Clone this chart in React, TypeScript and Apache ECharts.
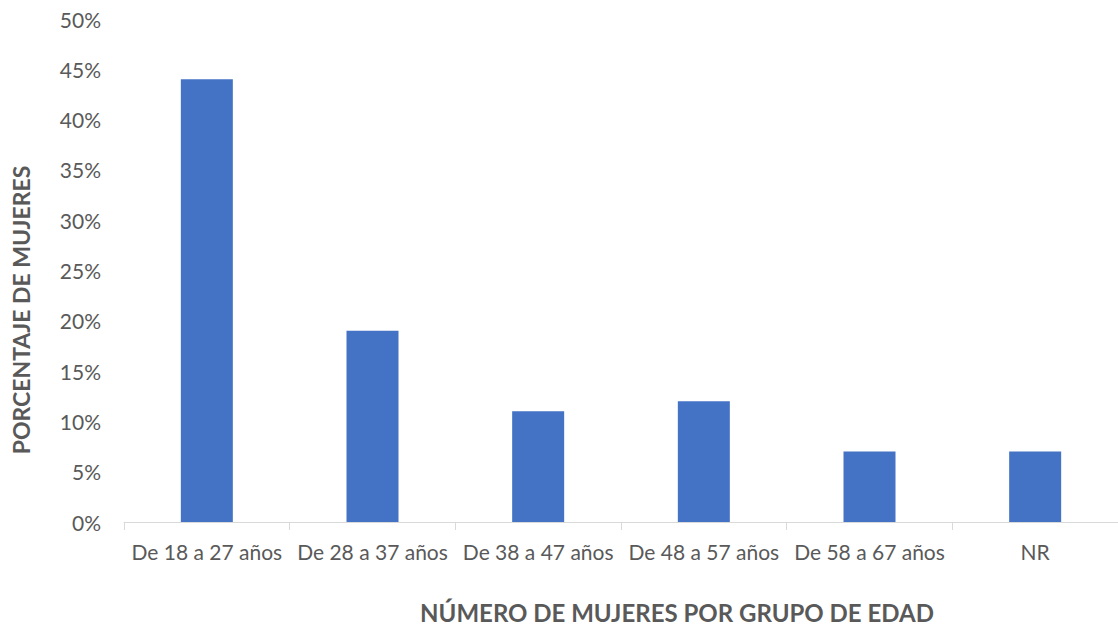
import React, { useEffect, useRef } from "react";
import * as echarts from "echarts";

const categories = ["De 18 a 27 años", "De 28 a 37 años", "De 38 a 47 años", "De 48 a 57 años", "De 58 a 67 años", "NR"];
const values = [44, 19, 11, 12, 7, 7];
const xTitle = "NÚMERO DE MUJERES POR GRUPO DE EDAD";
const yTitle = "PORCENTAJE DE MUJERES";

const FONT = "Lato, 'Open Sans', sans-serif";

export default function App() {
  const ref = useRef<HTMLDivElement>(null);
  useEffect(() => {
    document.body.style.margin = "0";
    const chart = echarts.init(ref.current!, null, { renderer: "svg" });
    chart.setOption({
      animation: false,
      grid: { left: 124, width: 998, top: 19, height: 503 },
      xAxis: {
        type: "category",
        data: categories,
        axisLine: { lineStyle: { color: "#d9d9d9", width: 1 } },
        axisTick: { show: true, length: 8, lineStyle: { color: "#d9d9d9" } },
        axisLabel: { color: "#595959", fontSize: 21, fontFamily: FONT, margin: 19, interval: 0 },
      },
      yAxis: {
        type: "value",
        min: 0,
        max: 50,
        interval: 5,
        splitLine: { show: false },
        axisLine: { show: false },
        axisTick: { show: false },
        axisLabel: { color: "#595959", fontSize: 21, fontFamily: FONT, margin: 23, formatter: "{value}%" },
      },
      series: [
        {
          type: "bar",
          data: values,
          barWidth: 52,
          itemStyle: { color: "#4472c4" },
        },
      ],
      graphic: [
        {
          type: "text",
          x: 677,
          y: 612,
          style: {
            text: xTitle,
            fill: "#595959",
            font: `bold 24px ${FONT}`,
            align: "center",
            verticalAlign: "middle",
          },
        },
        {
          type: "text",
          x: 21,
          y: 310,
          rotation: Math.PI / 2,
          style: {
            text: yTitle,
            fill: "#595959",
            font: `bold 23px ${FONT}`,
            align: "center",
            verticalAlign: "middle",
          },
        },
      ],
    });
    return () => chart.dispose();
  }, []);
  return <div ref={ref} style={{ width: 1118, height: 628 }} />;
}
